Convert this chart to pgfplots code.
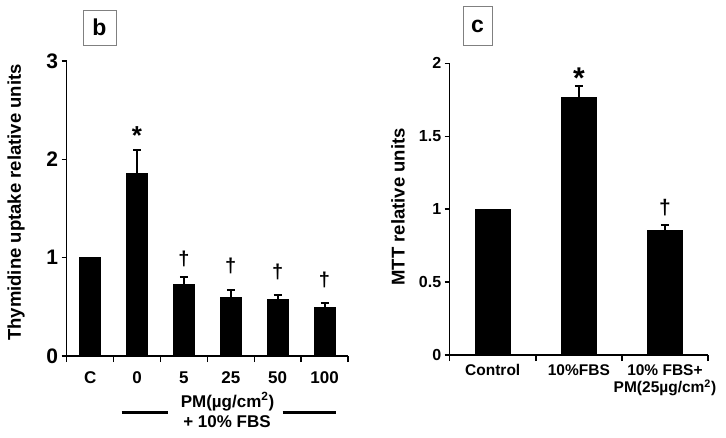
\documentclass[border=0pt]{standalone}
\usepackage{fontspec}
\setmainfont{Liberation Sans}
\usepackage{pgfplots}
\pgfplotsset{compat=1.18}
\newcommand{\fs}[1]{\bfseries\fontsize{#1}{#1}\selectfont}
\pgfplotsset{
  panel/.style={
    scale only axis, anchor=south west,
    ymin=0,
    axis x line*=bottom, axis y line*=left,
    axis line style={line width=1.4pt, -},
    tick align=outside,
    /pgf/number format/assume math mode=true,
    major x tick style={draw=none},
    minor tick length=6pt,
    major tick length=5pt,
    every tick/.style={line width=1.4pt, black},
    y tick style={line width=1.4pt, black},
    minor x tick style={line width=1.4pt, black},
    ylabel style={anchor=center},
  },
  errbars/.style={
    error bars/.cd, y dir=plus, y explicit,
    error bar style={line width=2pt, black},
    error mark options={rotate=90, mark size=4pt, line width=2pt, black},
  },
}
\begin{document}
\begin{tikzpicture}[x=1pt,y=1pt]
\path[use as bounding box] (0,0) rectangle (726,437);

% ---------- panel b ----------
\begin{axis}[panel,
  at={(66.7pt,81pt)}, width=281.3pt, height=295pt,
  xmin=-0.5, xmax=5.5, ymax=3,
  ytick={0,1,2,3},
  xtick={0,1,2,3,4,5},
  xticklabels={C,0,5,25,50,100},
  minor xtick={-0.5,0.5,1.5,2.5,3.5,4.5,5.5},
  xticklabel style={font=\fs{17}, yshift=-7pt},
  yticklabel style={font=\fs{21}},
  ylabel={Thymidine uptake relative units},
  ylabel style={font=\fs{18.5}, at={(axis description cs:-0.18,0.52)}},
]
\addplot[ybar, bar width=21pt, bar shift=0pt, fill=black, draw=black]
  coordinates {(0,1.0)};
\addplot[ybar, bar width=21pt, bar shift=0pt, fill=black, draw=black, errbars]
  coordinates {(1,1.858) +- (0,0.232)
               (2,0.730) +- (0,0.070)
               (3,0.593) +- (0,0.077)
               (4,0.577) +- (0,0.040)
               (5,0.495) +- (0,0.041)};
\node[font=\fs{26}] at (axis cs:1,2.24) {*};
\node[font=\fs{20}] at (axis cs:2,0.99) {†};
\node[font=\fs{20}] at (axis cs:3,0.92) {†};
\node[font=\fs{20}] at (axis cs:4,0.85) {†};
\node[font=\fs{20}] at (axis cs:5,0.77) {†};
\end{axis}

% ---------- panel c ----------
\begin{axis}[panel,
  at={(449.7pt,82pt)}, width=258.3pt, height=291.7pt,
  xmin=-0.5, xmax=2.5, ymax=2,
  ytick={0,0.5,1,1.5,2},
  xtick={0,1,2},
  xticklabels={Control,10\%FBS,{10\% FBS+\\[2pt]PM(25µg/cm\textsuperscript{2})}},
  minor xtick={-0.5,0.5,1.5,2.5},
  xticklabel style={font=\fs{15.5}, align=center, anchor=north, yshift=-1pt},
  yticklabel style={font=\fs{16}},
  ylabel={MTT relative units},
  ylabel style={font=\fs{18.5}, at={(axis description cs:-0.20,0.508)}},
]
\addplot[ybar, bar width=35pt, bar shift=0pt, fill=black, draw=black]
  coordinates {(0,1.0)};
\addplot[ybar, bar width=35pt, bar shift=0pt, fill=black, draw=black, errbars]
  coordinates {(1,1.765) +- (0,0.080)
               (2,0.855) +- (0,0.035)};
\node[font=\fs{30}] at (axis cs:1,1.90) {*};
\node[font=\fs{21}] at (axis cs:2,1.01) {†};
\end{axis}

% ---------- decorations ----------
\draw[line width=2.5pt] (121.7,24.7) -- (168.3,24.7);
\draw[line width=2.5pt] (282.7,24.7) -- (336,24.7);
\node[font=\fs{17}] at (227.5,35.3) {PM(µg/cm\textsuperscript{2})};
\node[font=\fs{17}] at (227,15.3) {+ 10\% FBS};

\draw[gray, line width=0.8pt] (83,392) rectangle (116,427);
\node[font=\fs{23}] at (99.5,409.5) {b};
\draw[gray, line width=0.8pt] (463,392) rectangle (492,431);
\node[font=\fs{23}] at (477.5,411) {c};
\end{tikzpicture}
\end{document}
